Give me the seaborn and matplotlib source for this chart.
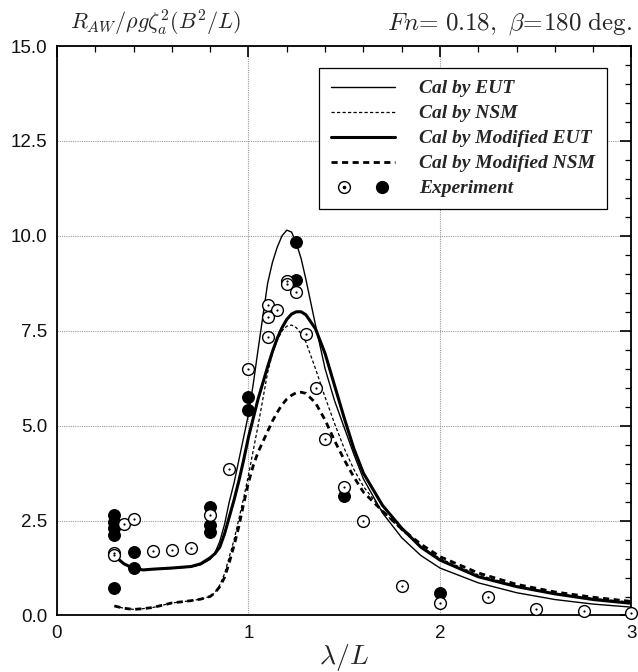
import matplotlib
matplotlib.use("Agg")
import matplotlib.pyplot as plt
import seaborn as sns
import pandas as pd
from matplotlib.ticker import MultipleLocator, FormatStrFormatter
from matplotlib.legend_handler import HandlerTuple
from matplotlib.lines import Line2D

sns.set_theme(style="white")
plt.rcParams["font.family"] = ["Liberation Sans", "DejaVu Sans"]
plt.rcParams["mathtext.fontset"] = "cm"

# wavelength/ship-length ratio used for the computed curves
lam_cal = [0.30, 0.35, 0.40, 0.45, 0.50, 0.60, 0.70, 0.75, 0.80,
           0.825, 0.85, 0.875, 0.90, 0.925, 0.95, 0.975, 1.00, 1.025, 1.05,
           1.10, 1.125, 1.15, 1.175, 1.20, 1.225, 1.25, 1.275, 1.30,
           1.35, 1.40, 1.45, 1.50, 1.55, 1.60,
           1.70, 1.80, 1.90, 2.00,
           2.20, 2.40, 2.60, 2.80, 3.00]

# non-dimensional added resistance, computed
cal_eut = [1.57, 1.36, 1.24, 1.20, 1.22, 1.24, 1.28, 1.34, 1.48,
           1.65, 1.95, 2.40, 3.00, 3.50, 4.10, 4.70, 5.30, 6.10, 7.00,
           8.75, 9.30, 9.70, 10.00, 10.15, 10.10, 9.80, 9.40, 8.85,
           7.65, 6.50, 5.65, 4.95, 4.25, 3.60,
           2.70, 2.05, 1.58, 1.25,
           0.86, 0.60, 0.42, 0.30, 0.22]
cal_nsm = [0.25, 0.19, 0.16, 0.18, 0.21, 0.33, 0.39, 0.43, 0.50,
           0.60, 0.80, 1.10, 1.55, 2.00, 2.55, 3.10, 3.70, 4.35, 5.00,
           6.40, 6.90, 7.25, 7.50, 7.62, 7.65, 7.58, 7.42, 7.20,
           6.50, 5.75, 5.05, 4.40, 3.85, 3.40,
           2.75, 2.25, 1.82, 1.50,
           1.07, 0.78, 0.58, 0.45, 0.35]
cal_mod_eut = [1.57, 1.36, 1.24, 1.20, 1.22, 1.25, 1.29, 1.36, 1.52,
               1.63, 1.80, 2.15, 2.60, 3.05, 3.55, 4.10, 4.70, 5.20, 5.70,
               6.55, 6.95, 7.30, 7.58, 7.80, 7.94, 8.00, 8.00, 7.92,
               7.55, 6.90, 6.05, 5.20, 4.40, 3.75,
               2.90, 2.30, 1.80, 1.46,
               1.02, 0.76, 0.57, 0.42, 0.32]
cal_mod_nsm = [0.25, 0.19, 0.16, 0.18, 0.21, 0.33, 0.39, 0.43, 0.50,
               0.60, 0.76, 1.00, 1.40, 1.85, 2.35, 2.95, 3.50, 3.95, 4.30,
               4.85, 5.12, 5.35, 5.55, 5.70, 5.80, 5.87, 5.88, 5.85,
               5.60, 5.15, 4.60, 4.10, 3.65, 3.25,
               2.75, 2.28, 1.88, 1.55,
               1.12, 0.82, 0.62, 0.48, 0.37]

# measured values (two test series)
exp_open_x = [0.30, 0.30, 0.35, 0.40, 0.50, 0.60, 0.70, 0.80, 0.90, 1.00,
              1.10, 1.15, 1.10, 1.10, 1.20, 1.20, 1.25, 1.30, 1.35, 1.40,
              1.50, 1.60, 1.80, 2.00, 2.25, 2.50, 2.75, 3.00]
exp_open_y = [1.65, 1.60, 2.40, 2.53, 1.70, 1.72, 1.78, 2.64, 3.87, 6.50,
              8.17, 8.04, 7.85, 7.34, 8.81, 8.72, 8.52, 7.41, 5.98, 4.64,
              3.39, 2.49, 0.78, 0.34, 0.50, 0.18, 0.13, 0.07]
exp_fill_x = [0.30, 0.30, 0.30, 0.30, 0.30, 0.40, 0.40, 0.80, 0.80, 0.80,
              1.00, 1.00, 1.25, 1.25, 1.50, 2.00]
exp_fill_y = [2.64, 2.47, 2.30, 2.12, 0.72, 1.68, 1.26, 2.86, 2.38, 2.20,
              5.76, 5.41, 9.83, 8.85, 3.15, 0.58]

x_ticks = [0, 1, 2, 3]
y_ticks = [0.0, 2.5, 5.0, 7.5, 10.0, 12.5, 15.0]

labels = ["Cal by EUT", "Cal by NSM", "Cal by Modified EUT",
          "Cal by Modified NSM", "Experiment"]

fig = plt.figure(figsize=(6.38, 6.72), dpi=100)
ax = fig.add_axes([0.0893, 0.0841, 0.9005, 0.8474])

cal = pd.DataFrame({"lam": lam_cal, "eut": cal_eut, "nsm": cal_nsm,
                    "meut": cal_mod_eut, "mnsm": cal_mod_nsm})

nsm_dash = (0, (2.6, 1.8))
mnsm_dash = (0, (2.2, 1.6))

sns.lineplot(data=cal, x="lam", y="eut", ax=ax, color="black", lw=1.0,
             sort=False, estimator=None)
sns.lineplot(data=cal, x="lam", y="nsm", ax=ax, color="black", lw=0.9,
             sort=False, estimator=None, linestyle=nsm_dash)
sns.lineplot(data=cal, x="lam", y="meut", ax=ax, color="black", lw=2.2,
             sort=False, estimator=None)
sns.lineplot(data=cal, x="lam", y="mnsm", ax=ax, color="black", lw=2.0,
             sort=False, estimator=None, linestyle=mnsm_dash)

sns.scatterplot(x=exp_fill_x, y=exp_fill_y, ax=ax, marker="o", s=72,
                color="black", edgecolor="black", linewidth=0.8,
                clip_on=False, zorder=4)
sns.scatterplot(x=exp_open_x, y=exp_open_y, ax=ax, marker="o", s=72,
                color="white", edgecolor="black", linewidth=1.0,
                clip_on=False, zorder=5)
sns.scatterplot(x=exp_open_x, y=exp_open_y, ax=ax, marker="o", s=2.5,
                color="black", edgecolor="black", linewidth=0,
                clip_on=False, zorder=6)

ax.set_xlim(0, 3)
ax.set_ylim(0, 15)
ax.set_xticks(x_ticks)
ax.set_yticks(y_ticks)
ax.xaxis.set_minor_locator(MultipleLocator(0.2))
ax.yaxis.set_minor_locator(MultipleLocator(0.5))
ax.yaxis.set_major_formatter(FormatStrFormatter("%.1f"))
ax.tick_params(which="both", direction="in", top=True, right=True,
               color="black", labelsize=13.5, labelcolor="#111111")
ax.tick_params(which="major", length=8, width=1.2)
ax.tick_params(which="minor", length=4.5, width=0.9)
ax.tick_params(axis="y", pad=7)
ax.tick_params(axis="x", pad=7)
ax.grid(True, which="major", color="#9a9a9a", linestyle=(0, (1, 1)), lw=0.8)
for sp in ax.spines.values():
    sp.set_color("black")
    sp.set_linewidth(1.3)

ax.set_xlabel(r"$\lambda/L$", fontsize=20, labelpad=0)
ax.set_ylabel("")

fig.text(70 / 638, 1 - 30 / 672, r"$R_{AW}/\rho g\zeta_a^2(B^2/L)$",
         fontsize=16, ha="left", va="baseline")
fig.text(632 / 638, 1 - 30 / 672,
         r"$Fn\!=\!\;0.18,\ \beta\!=\!180\ \mathrm{deg.}$",
         fontsize=18, ha="right", va="baseline")

h_eut = Line2D([], [], color="black", lw=1.0)
h_nsm = Line2D([], [], color="black", lw=0.9, linestyle=nsm_dash)
h_meut = Line2D([], [], color="black", lw=2.2)
h_mnsm = Line2D([], [], color="black", lw=2.0, linestyle=mnsm_dash)
h_open = Line2D([], [], linestyle="none", marker="o", markersize=8.5,
                markerfacecolor="white", markeredgecolor="black",
                markeredgewidth=1.0)
h_dot = Line2D([], [], linestyle="none", marker="o", markersize=1.6,
               color="black")
h_fill = Line2D([], [], linestyle="none", marker="o", markersize=8.5,
                color="black")
h_exp = ((h_open, h_dot), h_fill)

leg = ax.legend([h_eut, h_nsm, h_meut, h_mnsm, h_exp],
                labels, loc="upper right", bbox_to_anchor=(0.957, 0.962),
                handler_map={h_exp: HandlerTuple(ndivide=None, pad=0.6)},
                prop={"family": "Liberation Serif", "weight": "bold",
                      "style": "italic", "size": 14},
                frameon=True, fancybox=False, framealpha=1,
                edgecolor="black", handlelength=3.3, handletextpad=1.2,
                labelspacing=0.38, borderpad=0.62, borderaxespad=0)
leg.get_frame().set_linewidth(0.9)

fig.savefig("out.png", dpi=100)
